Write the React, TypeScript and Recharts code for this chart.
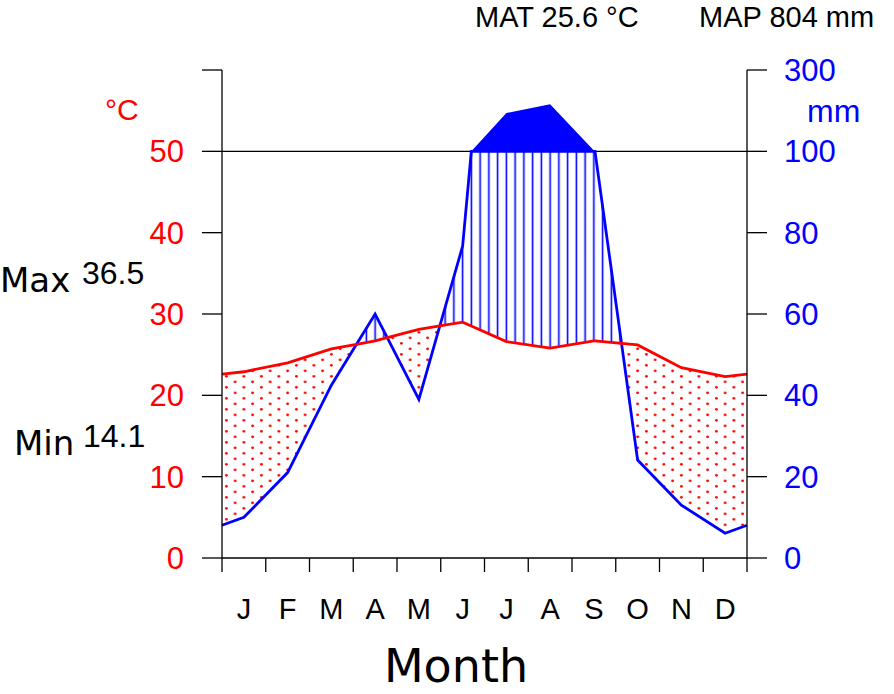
import { Area, ComposedChart, Line, ReferenceLine, XAxis, YAxis } from 'recharts';

// monthly climate normals (Walter-Lieth diagram)
const months = ['J', 'F', 'M', 'A', 'M', 'J', 'J', 'A', 'S', 'O', 'N', 'D'];
const tempC = [22.9, 24.0, 25.7, 26.7, 28.1, 29.0, 26.6, 25.8, 26.7, 26.2, 23.4, 22.3];
const precipMm = [10.0, 21.0, 42.5, 60.0, 39.0, 76.7, 194, 216, 102, 24.1, 13.0, 6.1];

const tempTicks = [0, 10, 20, 30, 40, 50, 60];
const precipTickLabels = ['0', '20', '40', '60', '80', '100', '300'];
const monthTicks = months.map((_, i) => i + 0.5);
const gridTicks = [0, 1, 2, 3, 4, 5, 6, 7, 8, 9, 10, 11, 12];

const MAT = 25.6;
const MAP = 804;
const absMax = 36.5;
const absMin = 14.1;

type Pt = { x: number; t: number; p: number };

// points at month centres, closed at both edges with the Dec/Jan mean
function buildRows() {
  const edgeT = (tempC[0] + tempC[11]) / 2;
  const edgeP = (precipMm[0] + precipMm[11]) / 2;
  const base: Pt[] = [
    { x: 0, t: edgeT, p: edgeP },
    ...months.map((_, i) => ({ x: i + 0.5, t: tempC[i], p: precipMm[i] })),
    { x: 12, t: edgeT, p: edgeP },
  ];

  const pts: Pt[] = [];
  for (let i = 0; i < base.length; i++) {
    const a = base[i];
    pts.push(a);
    const b = base[i + 1];
    if (!b) break;
    const fs: number[] = [];
    const d1 = a.t - a.p / 2;
    const d2 = b.t - b.p / 2;
    if (d1 * d2 < 0) fs.push(d1 / (d1 - d2));
    const g1 = a.p / 2 - 50;
    const g2 = b.p / 2 - 50;
    if (g1 * g2 < 0) fs.push(g1 / (g1 - g2));
    fs.sort((u, v) => u - v).forEach((f) => {
      pts.push({ x: a.x + (b.x - a.x) * f, t: a.t + (b.t - a.t) * f, p: a.p + (b.p - a.p) * f });
    });
  }

  return pts.map(({ x, t, p }) => {
    const pu = p / 2;
    const pc = p <= 100 ? p / 2 : 50 + (p - 100) / 20;
    return {
      x,
      temp: t,
      rain: Math.min(pu, 50),
      dry: [Math.min(pu, t), t],
      wet: [t, Math.max(t, Math.min(pu, 50))],
      wetTop: [50, pu >= 49.999 ? Math.max(pc, 50) : 50],
    };
  });
}

const rows = buildRows();

const tickFont = 'Liberation Sans, Arial, sans-serif';
const labelFont = 'DejaVu Sans, Verdana, sans-serif';

export default function App() {
  return (
    <div style={{ position: 'absolute', left: 0, top: 0, width: 894, height: 694, background: '#fff' }}>
      <ComposedChart width={894} height={694} data={rows} margin={{ top: 70, right: 0, bottom: 0, left: 0 }}>
        <defs>
          <pattern id="dryDots" patternUnits="userSpaceOnUse" x={222} y={0} width={17.5} height={11}>
            <circle cx={4.375} cy={2.3} r={1.4} fill="#ff0000" />
            <circle cx={13.125} cy={7.8} r={1.4} fill="#ff0000" />
          </pattern>
          <pattern id="wetHatch" patternUnits="userSpaceOnUse" x={222} y={0} width={8.75} height={10}>
            <line x1={4.375} y1={0} x2={4.375} y2={10} stroke="#0000ff" strokeWidth={1.6} />
          </pattern>
        </defs>
        <XAxis
          xAxisId="grid"
          dataKey="x"
          type="number"
          domain={[0, 12]}
          ticks={gridTicks}
          tickFormatter={() => ''}
          tickSize={14}
          height={40}
          axisLine={{ stroke: '#000', strokeWidth: 1.3 }}
          tickLine={{ stroke: '#000', strokeWidth: 1.3 }}
          interval={0}
        />
        <XAxis
          xAxisId="months"
          dataKey="x"
          type="number"
          domain={[0, 12]}
          ticks={monthTicks}
          tickFormatter={(v: number) => months[Math.floor(v)]}
          axisLine={false}
          tickLine={false}
          tickSize={0}
          tickMargin={0}
          height={96}
          interval={0}
          tick={{ fill: '#000', fontSize: 29, fontFamily: tickFont }}
        />
        <YAxis
          yAxisId="t"
          type="number"
          domain={[0, 60]}
          ticks={tempTicks}
          tickFormatter={(v: number) => (v === 60 ? '' : String(v))}
          width={222}
          tickSize={20}
          tickMargin={18}
          interval={0}
          axisLine={{ stroke: '#000', strokeWidth: 1.3 }}
          tickLine={{ stroke: '#000', strokeWidth: 1.3 }}
          tick={{ fill: '#ff0000', fontSize: 31, fontFamily: tickFont }}
        />
        <YAxis
          yAxisId="r"
          orientation="right"
          type="number"
          domain={[0, 60]}
          ticks={tempTicks}
          tickFormatter={(v: number) => precipTickLabels[tempTicks.indexOf(v)]}
          width={147}
          tickSize={20}
          tickMargin={17}
          interval={0}
          axisLine={{ stroke: '#000', strokeWidth: 1.3 }}
          tickLine={{ stroke: '#000', strokeWidth: 1.3 }}
          tick={{ fill: '#0000ff', fontSize: 31, fontFamily: tickFont }}
        />
        <Area
          xAxisId="grid"
          yAxisId="t"
          dataKey="dry"
          type="linear"
          stroke="none"
          fill="url(#dryDots)"
          fillOpacity={1}
          isAnimationActive={false}
        />
        <Area
          xAxisId="grid"
          yAxisId="t"
          dataKey="wet"
          type="linear"
          stroke="none"
          fill="url(#wetHatch)"
          fillOpacity={1}
          isAnimationActive={false}
        />
        <ReferenceLine xAxisId="grid" yAxisId="t" y={50} stroke="#000" strokeWidth={1.3} />
        <Area
          xAxisId="grid"
          yAxisId="r"
          dataKey="wetTop"
          type="linear"
          stroke="none"
          fill="#0000ff"
          fillOpacity={1}
          isAnimationActive={false}
        />
        <Line
          xAxisId="grid"
          yAxisId="r"
          dataKey="rain"
          type="linear"
          stroke="#0000ff"
          strokeWidth={2.8}
          dot={false}
          activeDot={false}
          isAnimationActive={false}
        />
        <Line
          xAxisId="grid"
          yAxisId="t"
          dataKey="temp"
          type="linear"
          stroke="#ff0000"
          strokeWidth={2.8}
          dot={false}
          activeDot={false}
          isAnimationActive={false}
        />
      </ComposedChart>
      <svg
        width={894}
        height={694}
        style={{ position: 'absolute', left: 0, top: 0, pointerEvents: 'none' }}
      >
        <text x={475} y={27} fontSize={29} fontFamily={tickFont} fill="#000">
          MAT {MAT} °C
        </text>
        <text x={699} y={27} fontSize={29} fontFamily={tickFont} fill="#000">
          MAP {MAP} mm
        </text>
        <text x={105} y={120} fontSize={30} fontFamily={tickFont} fill="#ff0000">
          °C
        </text>
        <text x={807} y={122} fontSize={32} fontFamily={tickFont} fill="#0000ff">
          mm
        </text>
        <text x={0} y={292} fontSize={34} fontFamily={labelFont} fill="#000">
          Max
        </text>
        <text x={82} y={284} fontSize={32} fontFamily={tickFont} fill="#000">
          {absMax}
        </text>
        <text x={14} y={455} fontSize={34} fontFamily={labelFont} fill="#000">
          Min
        </text>
        <text x={83} y={447} fontSize={32} fontFamily={tickFont} fill="#000">
          {absMin}
        </text>
        <text x={456} y={682} fontSize={46} fontFamily={labelFont} fill="#000" textAnchor="middle">
          Month
        </text>
      </svg>
    </div>
  );
}
